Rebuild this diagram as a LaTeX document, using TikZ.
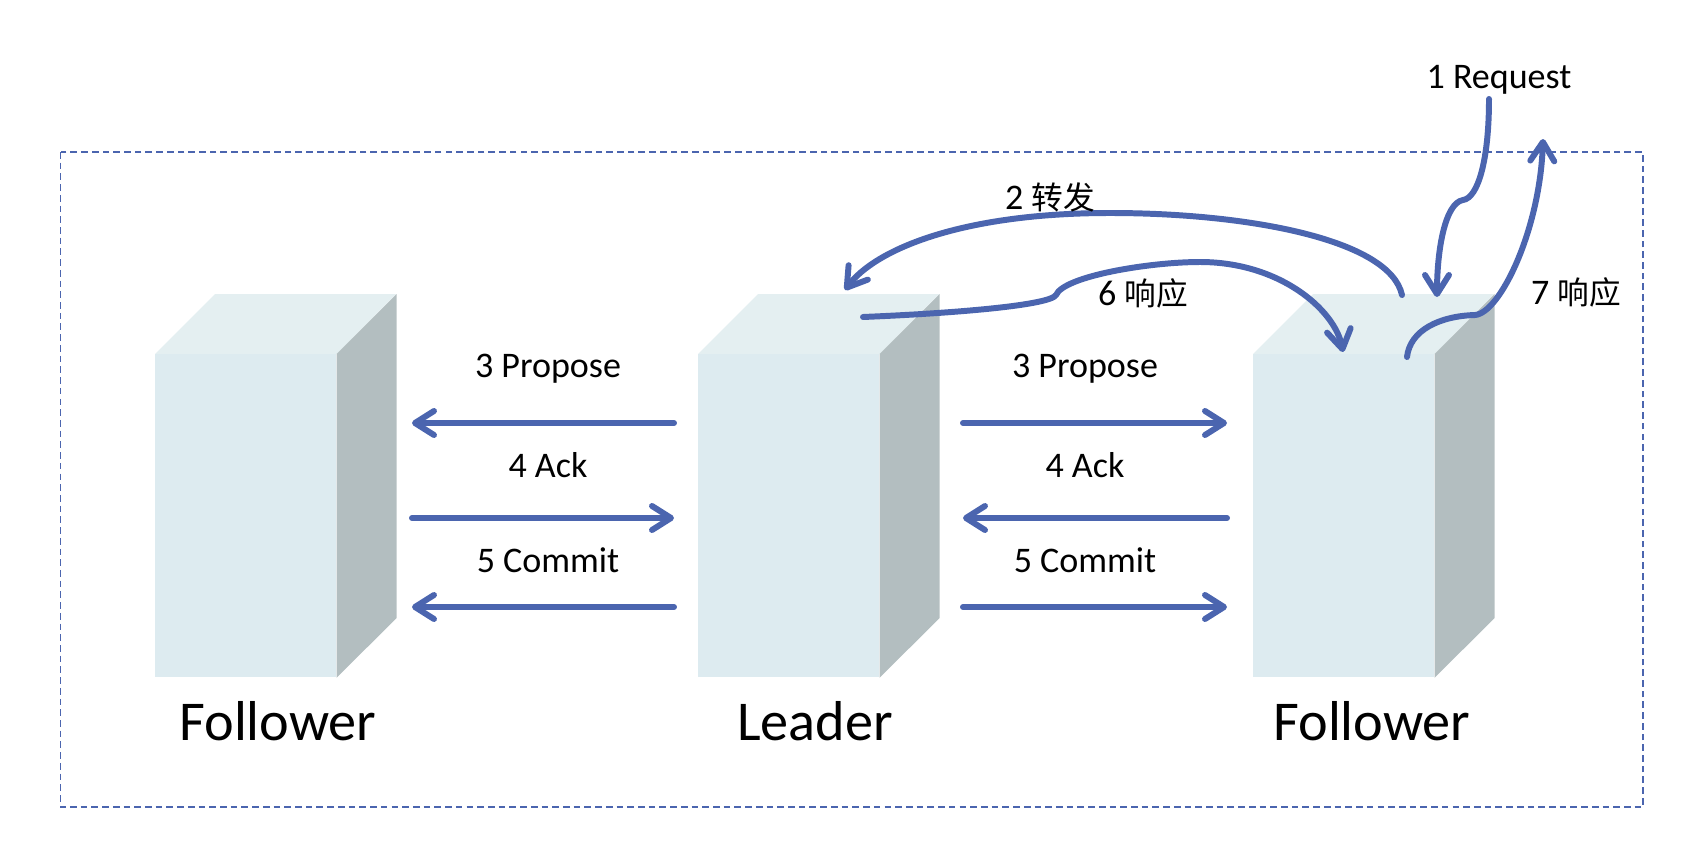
\documentclass[tikz,border=0pt]{standalone}
\usepackage{fontspec}
\setmainfont{Carlito}
\newfontfamily\cjk[Scale=0.88]{Noto Sans CJK SC}
\usepackage{tikz}
\usetikzlibrary{arrows.meta}
\definecolor{msgblue}{RGB}{75,101,175}
\definecolor{frontcol}{RGB}{221,235,240}
\definecolor{topcol}{RGB}{228,239,241}
\definecolor{sidecol}{RGB}{179,190,192}

\begin{document}
\begin{tikzpicture}[x=0.02cm, y=-0.02cm,
  server/.style={fill=frontcol, minimum width=3.62cm, minimum height=6.46cm, anchor=north west, inner sep=0pt},
  msg/.style={-{Straight Barb[length=3.8mm, width=4.8mm, round]}, line width=3.4pt, msgblue, line cap=round},
  lbl/.style={font=\fontsize{20.5}{24}\selectfont, anchor=base},
  rolelbl/.style={font=\fontsize{32}{36}\selectfont, anchor=base}]
\useasboundingbox (0,0) rectangle (1694,852);
\draw[msgblue, line width=1pt, dash pattern=on 3.8pt off 2.3pt] (60.5,152) rectangle (1643,807);
% servidores
\node[server] (fl) at (155,354) {};
\node[server] (ld) at (698,354) {};
\node[server] (fr) at (1253,354) {};
\foreach \s in {fl,ld,fr} {
  \fill[topcol] (\s.north west) -- ++(60,-60) -- ++(181,0) -- (\s.north east) -- cycle;
  \fill[sidecol] (\s.north east) -- ++(60,-60) -- ++(0,324) -- (\s.south east) -- cycle;
}
\node[rolelbl] (fl-name) at (278,740) {Follower};
\node[rolelbl] (ld-name) at (815,740) {Leader};
\node[rolelbl] (fr-name) at (1372,740) {Follower};
% mensajes entre servidores
\foreach \y/\n in {423/p, 518/a, 607/c} {
  \coordinate (la\n) at (412,\y); \coordinate (lb\n) at (674,\y);
  \coordinate (ra\n) at (963,\y); \coordinate (rb\n) at (1227,\y);
}
\foreach \a/\b in {lbp/lap, laa/lba, lbc/lac, rap/rbp, rba/raa, rac/rbc} \draw[msg] (\a) -- (\b);
\node[lbl] (lp-txt) at (548,377) {3 Propose};
\node[lbl] (la-txt) at (548,477) {4 Ack};
\node[lbl] (lc-txt) at (548,572) {5 Commit};
\node[lbl] (rp-txt) at (1085,377) {3 Propose};
\node[lbl] (ra-txt) at (1085,477) {4 Ack};
\node[lbl] (rc-txt) at (1085,572) {5 Commit};
% peticion del cliente
\coordinate (req-in) at (1489,99);
\coordinate (req-end) at (1437,297);
\coordinate (fwd-in) at (1402,295);
\coordinate (fwd-end) at (845,290);
\coordinate (ans-in) at (863,317);
\coordinate (ans-end) at (1343,352);
\coordinate (out-in) at (1407,357);
\coordinate (out-end) at (1543,139);
\draw[msg] (req-in) .. controls (1489,160) and (1478,198) .. (1463,200) .. controls (1445,203) and (1437,250) .. (req-end);
\draw[msg] (fwd-in) .. controls (1390,240) and (1250,213) .. (1110,213) .. controls (960,213) and (875,250) .. (fwd-end);
\draw[msg] (ans-in) .. controls (960,313) and (1050,305) .. (1056,295) .. controls (1064,276) and (1150,262) .. (1200,262) .. controls (1280,262) and (1335,310) .. (ans-end);
\draw[msg] (out-in) .. controls (1410,330) and (1440,316) .. (1475,315) .. controls (1500,313) and (1540,230) .. (out-end);
\node[lbl] (req-txt) at (1499,88) {1 Request};
\node[lbl] (fwd-txt) at (1050,209) {2 {\cjk 转发}};
\node[lbl] (ans-txt) at (1143,305) {6 {\cjk 响应}};
\node[lbl] (out-txt) at (1576,304) {7 {\cjk 响应}};
\end{tikzpicture}
\end{document}
